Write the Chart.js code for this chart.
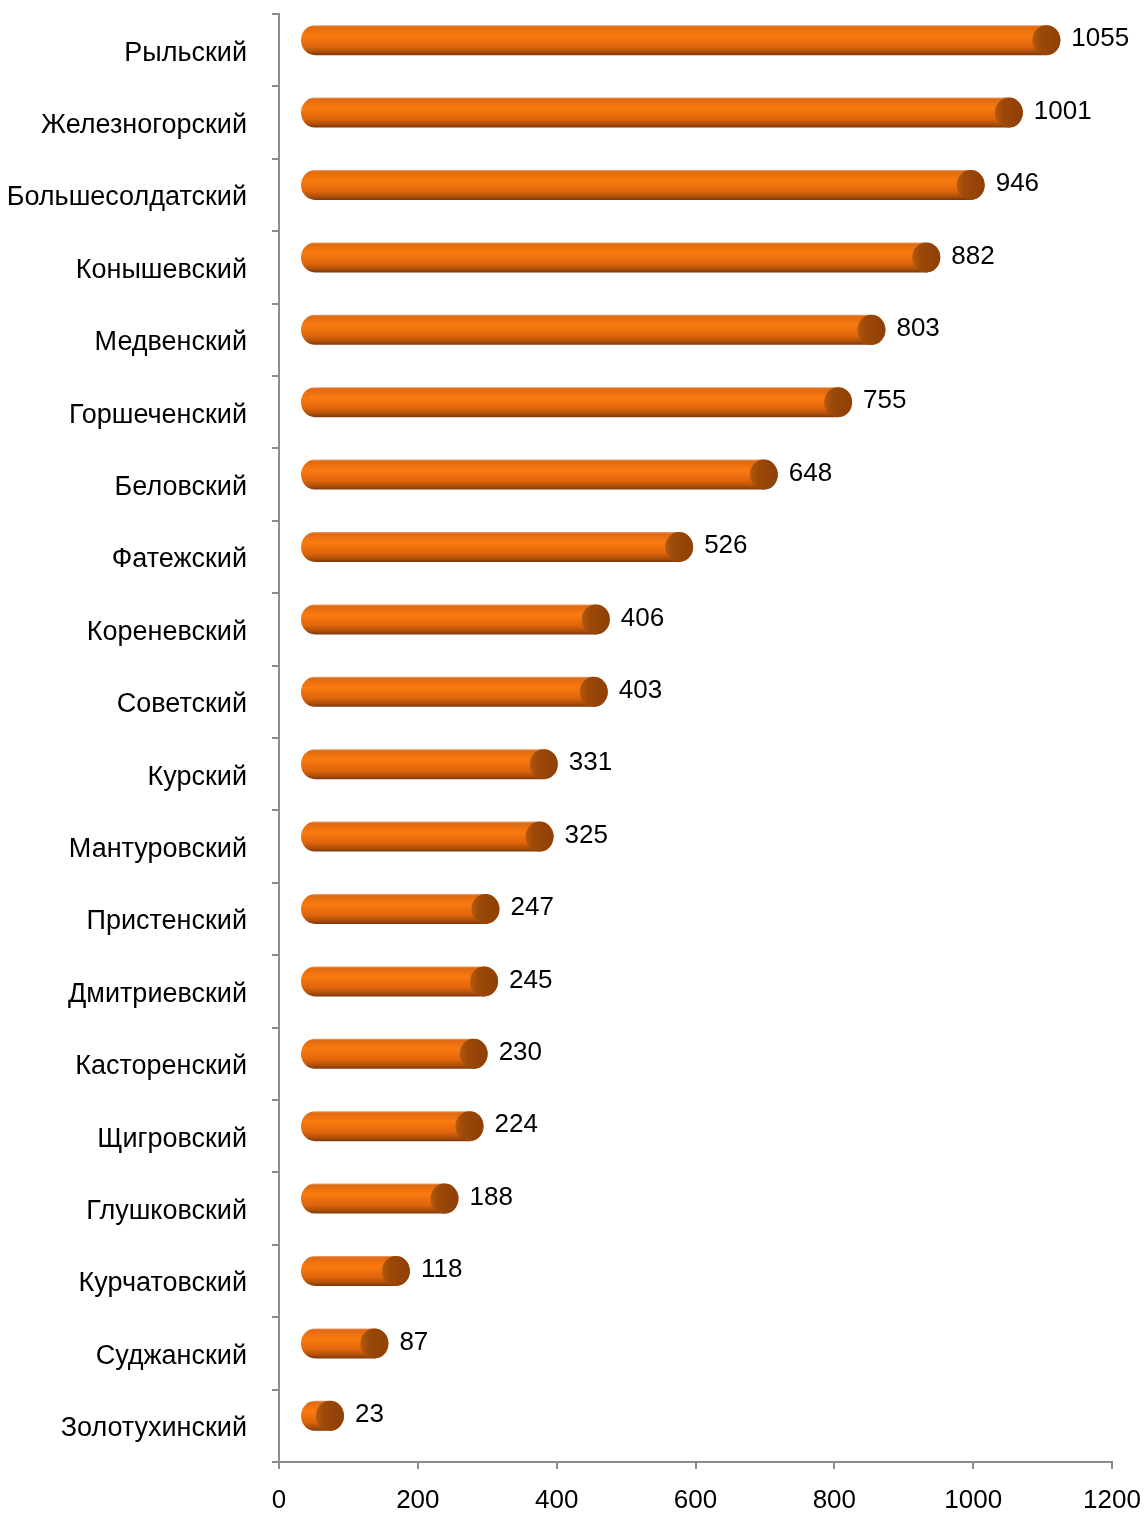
<!DOCTYPE html>
<html>
<head>
<meta charset="utf-8">
<script src="https://cdn.jsdelivr.net/npm/chart.js@4/dist/chart.umd.min.js"></script>
<style>
  html, body { margin: 0; padding: 0; background: #fff; }
  #wrap { width: 1146px; height: 1514px; }
</style>
</head>
<body>
<div id="wrap"><canvas id="chart" width="1146" height="1514"></canvas></div>
<script>
const districts = [
  'Рыльский', 'Железногорский', 'Большесолдатский', 'Конышевский', 'Медвенский',
  'Горшеченский', 'Беловский', 'Фатежский', 'Кореневский', 'Советский',
  'Курский', 'Мантуровский', 'Пристенский', 'Дмитриевский', 'Касторенский',
  'Щигровский', 'Глушковский', 'Курчатовский', 'Суджанский', 'Золотухинский'
];
const counts = [1055, 1001, 946, 882, 803, 755, 648, 526, 406, 403,
  331, 325, 247, 245, 230, 224, 188, 118, 87, 23];
const xTicks = [0, 200, 400, 600, 800, 1000, 1200];

const FONT = '"Liberation Sans", Arial, sans-serif';

// 3D cylinder look: bars are drawn by this plugin from the bar elements
const cylinders = {
    id: 'cylinders',
    afterDatasetsDraw(chart) {
        const ctx = chart.ctx;
        const meta = chart.getDatasetMeta(0);
        const dx = 35, dy = -10, h = 30, rx = 14;
        ctx.save();
        meta.data.forEach(function(bar, i) {
            const xs = bar.base + dx;
            const xe = bar.x + dx;
            const yc = bar.y + dy;
            const top = yc - h / 2;

            const grad = ctx.createLinearGradient(0, top, 0, top + h);
            grad.addColorStop(0, '#e8a070');
            grad.addColorStop(0.06, '#e06a10');
            grad.addColorStop(0.35, '#fb7a10');
            grad.addColorStop(0.7, '#e0660c');
            grad.addColorStop(0.88, '#b05008');
            grad.addColorStop(1, '#7a3810');

            // body with rounded left end
            ctx.beginPath();
            ctx.ellipse(xs, yc, rx, h / 2, 0, Math.PI / 2, Math.PI * 1.5);
            ctx.lineTo(xe, top);
            ctx.ellipse(xe, yc, rx, h / 2, 0, -Math.PI / 2, Math.PI / 2);
            ctx.closePath();
            ctx.fillStyle = grad;
            ctx.fill();

            // end cap
            const capGrad = ctx.createLinearGradient(xe - rx, 0, xe + rx, 0);
            capGrad.addColorStop(0, '#b45a12');
            capGrad.addColorStop(0.3, '#9c4808');
            capGrad.addColorStop(1, '#8e4006');
            ctx.beginPath();
            ctx.ellipse(xe, yc, rx, h / 2, 0, 0, Math.PI * 2);
            ctx.fillStyle = capGrad;
            ctx.fill();

            // value label
            ctx.fillStyle = '#000';
            ctx.font = '26px ' + FONT;
            ctx.textAlign = 'left';
            ctx.textBaseline = 'middle';
            ctx.fillText(String(counts[i]), xe + rx + 11, yc - 1);
        });
        ctx.restore();
    }
};

const ctx = document.getElementById('chart').getContext('2d');
new Chart(ctx, {
    type: 'bar',
    data: {
        labels: districts,
        datasets: [{
            data: counts,
            backgroundColor: 'rgba(0,0,0,0)',
            borderWidth: 0,
            barThickness: 30
        }]
    },
    options: {
        indexAxis: 'y',
        responsive: false,
        animation: false,
        layout: { padding: { top: 14, right: 34, left: 0, bottom: 0 } },
        plugins: {
            legend: { display: false },
            tooltip: { enabled: false }
        },
        scales: {
            x: {
                min: 0,
                max: 1200,
                afterBuildTicks: function(scale) {
                    scale.ticks = xTicks.map(v => ({ value: v }));
                },
                grid: {
                    drawOnChartArea: false,
                    drawTicks: true,
                    tickLength: 7,
                    color: '#8c8c8c',
                    lineWidth: 2
                },
                border: { color: '#8c8c8c', width: 2 },
                ticks: {
                    color: '#000',
                    padding: 16,
                    maxRotation: 0,
                    callback: function(v) { return String(v); },
                    font: { size: 26, family: FONT }
                },
                afterFit: function(scale) {
                    scale.height = 52;
                    scale.paddingLeft = 0;
                    scale.paddingRight = 0;
                }
            },
            y: {
                grid: {
                    drawOnChartArea: false,
                    drawTicks: true,
                    tickLength: 7,
                    offset: true,
                    color: '#8c8c8c',
                    lineWidth: 2
                },
                border: { color: '#8c8c8c', width: 2 },
                ticks: {
                    color: '#000',
                    padding: 25,
                    labelOffset: 3,
                    font: { size: 27, family: FONT }
                },
                afterFit: function(scale) {
                    scale.width = 279;
                    scale.paddingTop = 0;
                    scale.paddingBottom = 0;
                }
            }
        }
    },
    plugins: [cylinders]
});
</script>
</body>
</html>
